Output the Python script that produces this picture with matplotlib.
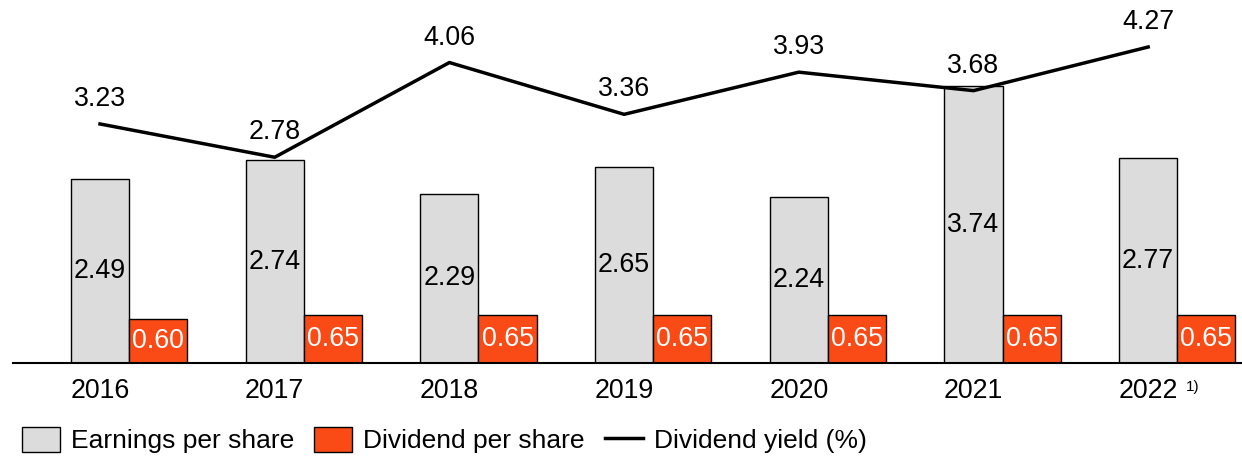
import numpy as np
import matplotlib
matplotlib.use("Agg")
import matplotlib.pyplot as plt

plt.rcParams['font.family'] = ['Liberation Sans', 'DejaVu Sans']

# data
years = ["2016", "2017", "2018", "2019", "2020", "2021", "2022"]
eps = [2.49, 2.74, 2.29, 2.65, 2.24, 3.74, 2.77]
dividend = [0.60, 0.65, 0.65, 0.65, 0.65, 0.65, 0.65]
div_yield = [3.23, 2.78, 4.06, 3.36, 3.93, 3.68, 4.27]

gray = "#dcdcdc"
orange = "#fa4b16"
fs = 19.3

W, H = 1242, 457
fig = plt.figure(figsize=(W / 100, H / 100), dpi=100)
ax = fig.add_axes([13 / W, (H - 363) / H, (W - 13) / W, 363 / H])

x = np.arange(len(years))
bw = 0.333

b1 = ax.bar(x, eps, width=bw, color=gray, edgecolor="black", linewidth=1.0,
            label="Earnings per share")
b2 = ax.bar(x + bw, dividend, width=bw, color=orange, edgecolor="black",
            linewidth=1.0, label="Dividend per share")
ln, = ax.plot(x, div_yield, color="black", linewidth=2.5, label="Dividend yield (%)")

for xi, v in zip(x, eps):
    ax.text(xi, v / 2, "{:.2f}".format(v), ha="center", va="center", fontsize=fs)
for xi, v in zip(x, dividend):
    ax.text(xi + bw, v / 2, "{:.2f}".format(v), ha="center", va="center",
            fontsize=fs, color="white")
for xi, v in zip(x, div_yield):
    ax.annotate("{:.2f}".format(v), (xi, v), xytext=(0, 18), textcoords="offset points",
                ha="center", va="center", fontsize=fs)

ax.set_xlim(-0.498, 6.537)
ax.set_ylim(0, 4.905)
ax.set_xticks(x)
ax.set_xticklabels(years, fontsize=fs)
ax.tick_params(axis="x", length=0, pad=11)
ax.set_yticks([])
for side in ["top", "left", "right"]:
    ax.spines[side].set_visible(False)
ax.spines["bottom"].set_linewidth(1.5)

# footnote marker next to 2022
ax.annotate("1)", (x[-1], 0), xytext=(27, -17), textcoords="offset points",
            ha="left", va="center", fontsize=11, annotation_clip=False)

fig.legend(handles=[b1, b2, ln], loc="center left", bbox_to_anchor=(22 / W, 17 / H),
           ncol=3, frameon=False, fontsize=19, borderpad=0, borderaxespad=0,
           handlelength=1.44, handleheight=1.1, handletextpad=0.42, columnspacing=0.75)

fig.savefig("out.png", dpi=100)
